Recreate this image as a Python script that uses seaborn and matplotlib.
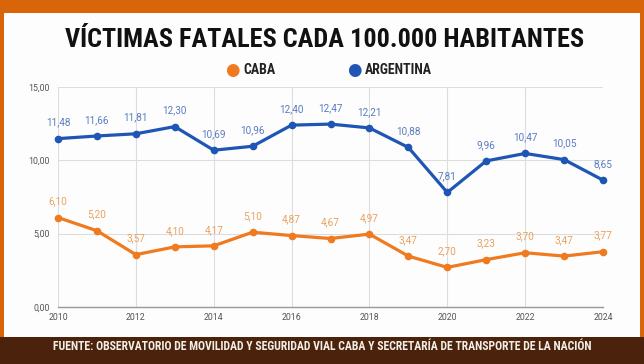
import matplotlib.pyplot as plt
import matplotlib.patches as mpatches
import pandas as pd
import seaborn as sns
from matplotlib import font_manager
from matplotlib.font_manager import FontProperties

years = list(range(2010, 2025))
caba = [6.10, 5.20, 3.57, 4.10, 4.17, 5.10, 4.87, 4.67, 4.97, 3.47, 2.70, 3.23, 3.70, 3.47, 3.77]
argentina = [11.48, 11.66, 11.81, 12.30, 10.69, 10.96, 12.40, 12.47, 12.21, 10.88, 7.81, 9.96, 10.47, 10.05, 8.65]
series_names = ['CABA', 'ARGENTINA']
y_ticks = [0, 5, 10, 15]
x_ticks = [2010, 2012, 2014, 2016, 2018, 2020, 2022, 2024]

TITLE = 'VÍCTIMAS FATALES CADA 100.000 HABITANTES'
SOURCE = 'FUENTE: OBSERVATORIO DE MOVILIDAD Y SEGURIDAD VIAL CABA Y SECRETARÍA DE TRANSPORTE DE LA NACIÓN'

ORANGE = '#ef7a1f'
BLUE = '#1f55b5'
ORANGE_LBL = '#e9a25f'
BLUE_LBL = '#5a7cc0'


def condensed_bold():
    # look for a narrow bold face among the installed files
    prefs = ['robotocondensed-bold', 'liberationsansnarrow-bold', 'dejavusanscondensed-bold']
    files = [f.fname for f in font_manager.fontManager.ttflist]
    for p in prefs:
        for fn in files:
            base = fn.lower().replace(' ', '').split('/')[-1]
            if base.startswith(p) and 'italic' not in base and 'oblique' not in base:
                return fn
    return None


cond_file = condensed_bold()


def cond_props(size):
    if cond_file:
        return FontProperties(fname=cond_file, size=size)
    return FontProperties(family='Roboto', weight='bold', size=size)


sns.set_style('white')
plt.rcParams['font.family'] = ['Roboto', 'DejaVu Sans']

df = pd.DataFrame({'Year': years * 2,
                   'Value': caba + argentina,
                   'Serie': [series_names[0]] * len(years) + [series_names[1]] * len(years)})

W, H = 644, 364
fig = plt.figure(figsize=(W / 100, H / 100), dpi=100)
fig.patch.set_facecolor('#d9650b')

# white panel and dark footer band
fig.add_artist(mpatches.Rectangle((4 / W, 26 / H), 636 / W, (H - 13 - 26) / H,
                                  transform=fig.transFigure, facecolor='#fdfdfd', edgecolor='none', zorder=0))
fig.add_artist(mpatches.Rectangle((0, 0), 1, 27 / H, transform=fig.transFigure,
                                  facecolor='#4b230d', edgecolor='none', zorder=0))

ax = fig.add_axes([58 / W, (H - 307) / H, (603 - 58) / W, (307 - 87) / H])
ax.set_facecolor('none')

sns.lineplot(data=df, x='Year', y='Value', hue='Serie', palette=[ORANGE, BLUE],
             marker='o', markersize=5.5, markeredgewidth=0, linewidth=2.3,
             legend=False, ax=ax, clip_on=False)

for vals, col in [(caba, ORANGE_LBL), (argentina, BLUE_LBL)]:
    for x, v in zip(years, vals):
        ax.annotate(f'{v:.2f}'.replace('.', ','), (x, v), xytext=(0, 8),
                    textcoords='offset points', ha='center', va='bottom',
                    fontsize=7.2, color=col)

ax.set_xlim(2010, 2024)
ax.set_ylim(0, 15)
ax.set_xticks(x_ticks)
ax.set_yticks(y_ticks)
ax.set_yticklabels([f'{t:.2f}'.replace('.', ',') for t in y_ticks])
ax.tick_params(axis='both', labelsize=6.3, colors='#555555', length=0, pad=6)
ax.tick_params(axis='x', pad=4)
ax.grid(True, color='#dddddd', linewidth=0.8)
ax.set_xlabel('')
ax.set_ylabel('')
for s in ['top', 'right', 'left']:
    ax.spines[s].set_visible(False)
ax.spines['bottom'].set_color('#999999')
ax.spines['bottom'].set_linewidth(1)

renderer = fig.canvas.get_renderer()


def fit_text(x, y, s, width_px, max_size, **kw):
    # place a text and shrink it until it spans the wanted width
    t = fig.text(x, y, s, fontproperties=cond_props(max_size), **kw)
    w = t.get_window_extent(renderer).width
    if w > width_px:
        t.set_fontproperties(cond_props(max_size * width_px / w))
    return t


fit_text(325 / W, (H - 40) / H, TITLE, 520, 20, ha='center', va='center', color='#111111')

# legend
for x0, name, col, wpx in [(232, series_names[0], ORANGE, 37), (354, series_names[1], BLUE, 75)]:
    fig.text(x0 / W, (H - 70) / H, '●', ha='center', va='center', fontsize=12, color=col,
             family='DejaVu Sans')
    fit_text((x0 + 11) / W, (H - 70) / H, name, wpx, 10, ha='left', va='center', color='#222222')

fit_text(322 / W, (H - 347) / H, SOURCE, 548, 9, ha='center', va='center', color='#f4ede6')

fig.savefig('out.png', dpi=100, facecolor=fig.get_facecolor())
